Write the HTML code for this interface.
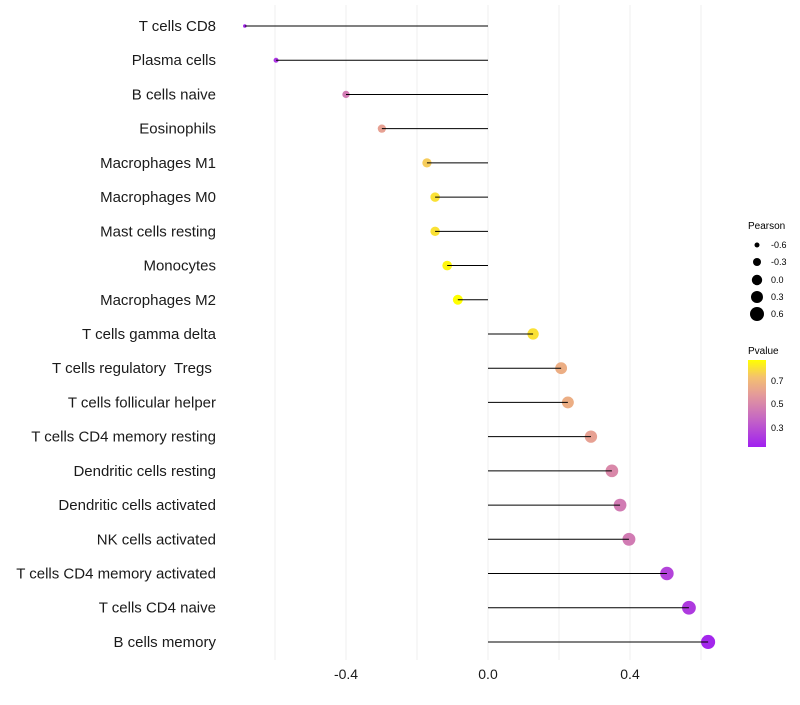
<!DOCTYPE html>
<html><head><meta charset="utf-8"><style>
body{margin:0;background:#fff;font-family:"Liberation Sans",sans-serif}
text{white-space:pre}
</style></head><body>
<svg id="chart" width="800" height="700">
<defs><linearGradient id="pg" x1="0" y1="1" x2="0" y2="0">
<stop offset="0" stop-color="#a020f0"/><stop offset="0.35" stop-color="#c86cc0"/><stop offset="0.6" stop-color="#e49a9a"/><stop offset="0.8" stop-color="#f4c070"/><stop offset="1" stop-color="#ffff00"/>
</linearGradient></defs>
<g id="grid"></g><g id="dots"></g><g id="marks"></g><g id="labels"></g>
<g font-size="9">
<text x="748" y="229" font-size="10">Pearson</text>
<circle cx="757" cy="245" r="2.5"/><text x="771" y="248">-0.6</text>
<circle cx="757" cy="262" r="4"/><text x="771" y="265">-0.3</text>
<circle cx="757" cy="280" r="5.2"/><text x="771" y="283">0.0</text>
<circle cx="757" cy="297" r="6"/><text x="771" y="300">0.3</text>
<circle cx="757" cy="314" r="7"/><text x="771" y="317">0.6</text>
</g>
<g font-size="9">
<text x="748" y="354" font-size="10">Pvalue</text>
<rect x="748" y="360" width="18" height="87" fill="url(#pg)"/>
<text x="771" y="384">0.7</text><text x="771" y="407">0.5</text><text x="771" y="431">0.3</text>
</g>
</svg>
<script>
const categories=["T cells CD8","Plasma cells","B cells naive","Eosinophils","Macrophages M1","Macrophages M0","Mast cells resting","Monocytes","Macrophages M2","T cells gamma delta","T cells regulatory  Tregs ","T cells follicular helper","T cells CD4 memory resting","Dendritic cells resting","Dendritic cells activated","NK cells activated","T cells CD4 memory activated","T cells CD4 naive","B cells memory"];
const pearson=[-0.685,-0.597,-0.4,-0.299,-0.172,-0.149,-0.149,-0.115,-0.085,0.127,0.206,0.225,0.29,0.349,0.372,0.397,0.504,0.566,0.62];
const pvalues=[0.15,0.2,0.45,0.6,0.75,0.8,0.8,0.85,0.87,0.8,0.65,0.65,0.6,0.5,0.45,0.45,0.25,0.22,0.15];
const xTicks=[-0.4,0,0.4];
const xTickLabels=["-0.4","0.0","0.4"];
const NS="http://www.w3.org/2000/svg";
const X=v=>488+v*355, Y=i=>26+i*34.22;
const R=v=>Math.sqrt(Math.max(2,27.6+35.6*v));
function col(p){const t=Math.max(0,Math.min(1,(p-0.13)/0.74));
 const st=[[0,[160,32,240]],[0.35,[200,108,192]],[0.6,[228,154,154]],[0.8,[244,192,112]],[1,[255,255,0]]];
 for(let k=1;k<st.length;k++){if(t<=st[k][0]){const a=st[k-1],b=st[k],f=(t-a[0])/(b[0]-a[0]);return 'rgb('+a[1].map((c,j)=>Math.round(c+(b[1][j]-c)*f)).join(',')+')';}}return 'rgb(255,255,0)';}
function mk(t,a,p){const e=document.createElementNS(NS,t);for(const k in a)e.setAttribute(k,a[k]);p.appendChild(e);return e;}
const g=document.getElementById('grid'),d=document.getElementById('dots'),m=document.getElementById('marks'),l=document.getElementById('labels');
[-0.6,-0.4,-0.2,0,0.2,0.4,0.6].forEach(v=>{const e=mk('line',{x1:X(v),x2:X(v),y1:5,y2:660,stroke:'#efefef','stroke-width':1},g);

});
categories.forEach((c,i)=>{
 const y=Y(i);
 const ci=mk('circle',{cx:X(pearson[i]),cy:y,r:R(pearson[i]),fill:col(pvalues[i])},d);
 
 
 const ln=mk('line',{x1:X(0),x2:X(pearson[i]),y1:y,y2:y,stroke:'#000','stroke-width':1},m);
 
 
 const t=mk('text',{x:216,y:y+5,'text-anchor':'end','font-size':15,fill:'#1a1a1a'},l);t.textContent=c;
 
 
});
xTicks.forEach((v,i)=>{const t=mk('text',{x:X(v),y:679,'text-anchor':'middle','font-size':14,fill:'#1a1a1a'},l);t.textContent=xTickLabels[i];
 
 });
</script>
</body></html>
